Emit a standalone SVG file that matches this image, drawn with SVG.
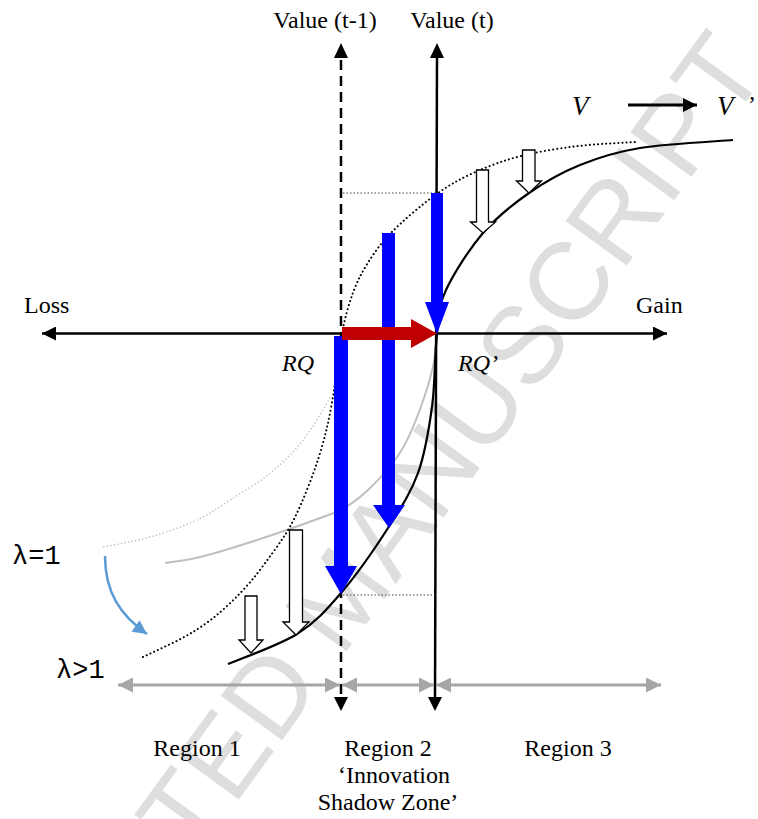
<svg xmlns="http://www.w3.org/2000/svg" width="758" height="819" viewBox="0 0 758 819">
<style>
.t{font-family:"Liberation Serif","Times New Roman",serif;font-size:24px;fill:#000}
.it{font-style:italic}
.v{font-family:"Liberation Serif","Times New Roman",serif;font-style:italic;font-size:27px;fill:#000}
.m{font-family:"Liberation Mono","DejaVu Sans Mono",monospace;font-size:27px;fill:#000}
.ax{stroke:#000;stroke-width:2.5;fill:none}
.bar{stroke:#A6A6A6;stroke-width:3;fill:none;marker-start:url(#ga);marker-end:url(#ga)}
.blue{fill:#0000FF}
.wa{fill:#fff;stroke:#000;stroke-width:1.3}
.dot{fill:none;stroke:#000;stroke-width:2;stroke-dasharray:0.1 4;stroke-linecap:round}
.thin{fill:none;stroke:#444;stroke-width:1;stroke-dasharray:1.5 2}
</style>
<defs>
<marker id="ba" viewBox="0 0 10 10" refX="10" refY="5" markerUnits="userSpaceOnUse" markerWidth="15" markerHeight="14" orient="auto-start-reverse"><path d="M0,0L10,5L0,10z" fill="#000"/></marker>
<marker id="ga" viewBox="0 0 10 10" refX="10" refY="5" markerUnits="userSpaceOnUse" markerWidth="16" markerHeight="15" orient="auto-start-reverse"><path d="M0,0L10,5L0,10z" fill="#A6A6A6"/></marker>
<marker id="la" viewBox="0 0 10 10" refX="10" refY="5" markerUnits="userSpaceOnUse" markerWidth="17" markerHeight="14" orient="auto"><path d="M0,0L10,5L0,10z" fill="#5B9BD5"/></marker>
</defs>
<rect width="758" height="819" fill="#fff"/>
<text x="370" y="619" transform="rotate(-54 370 619)" text-anchor="middle" font-family="Liberation Sans, Arial, sans-serif" font-size="110" fill="#DEDEDE">ACCEPTED MANUSCRIPT</text>

<g id="curves">
<path d="M330,398 L317.5,419 Q305,440 287.5,457.5 Q270,475 250,487.5 Q230,500 215,510 Q200,520 175,529 Q150,538 126.5,542.5 L103,547" fill="none" stroke="#BFBFBF" stroke-width="1.5" stroke-dasharray="0.1 3.5" stroke-linecap="round"/>
<path d="M437,335 L435,354 Q433,373 421,406.5 Q409,440 397.5,456.5 Q386,473 368,490 Q350,507 332.5,513.5 Q315,520 291,528.5 Q267,537 233.5,547.5 Q200,558 182.5,560.5 L165,563" fill="none" stroke="#BFBFBF" stroke-width="2"/>
<path class="dot" d="M143,657 L171.5,643.5 Q200,630 221.5,611 Q243,592 258,572.5 Q273,553 284,536.5 Q295,520 307.5,488.5 Q320,457 326.5,429.5 Q333,402 337,367.5 Q341,333 347,311.5 Q353,290 360,276.5 Q367,263 378,248 Q389,233 412.5,213 Q436,193 454.5,182.5 Q473,172 496.5,163.5 Q520,155 550,150 Q580,145 608.5,143.5 L637,142"/>
<path d="M228,664 C239.5,659 278.2,645.8 297,634 C315.8,622.2 325.8,610.7 341,593 C356.2,575.3 375.2,548 388,528 C400.8,508 410.7,493.2 418,473 C425.3,452.8 428.8,430.3 432,407 C435.2,383.7 434.7,352.5 437,333 C439.3,313.5 438.3,306.7 446,290 C453.7,273.3 469.2,249.2 483,233 C496.8,216.8 512.8,204.3 529,193 C545.2,181.7 561.5,172.5 580,165 C598.5,157.5 614.5,152.2 640,148 C665.5,143.8 717.5,141.3 733,140" fill="none" stroke="#000" stroke-width="2.2"/>
</g>

<g id="connectors">
<line class="ax" x1="42" y1="333.5" x2="667" y2="333.5" marker-start="url(#ba)" marker-end="url(#ba)"/>
<line class="ax" x1="341" y1="60" x2="341" y2="695" stroke-width="3" stroke-dasharray="10 6"/>
<path d="M334,58 L341,43 L348,58z M334,697 L348,697 L341,711z" fill="#000"/>
<line class="ax" x1="437" y1="56" x2="435" y2="698"/>
<path d="M430,58 L437,43 L444,58z M428,697 L442,697 L435,711z" fill="#000"/>
<line class="thin" x1="343" y1="193" x2="436" y2="193"/>
<line class="thin" x1="343" y1="595" x2="436" y2="595"/>
<line class="bar" x1="118" y1="685" x2="340" y2="685"/>
<line class="bar" x1="342" y1="685" x2="434" y2="685"/>
<line class="bar" x1="436" y1="685" x2="661" y2="685"/>
<line x1="628" y1="105" x2="697" y2="105" stroke="#000" stroke-width="3" marker-end="url(#ba)"/>
<path d="M105,556 C105,592 120,615 147,634" fill="none" stroke="#5B9BD5" stroke-width="2.5" marker-end="url(#la)"/>
</g>

<g id="blue-arrows">
<polygon class="blue" points="334,336 348,336 348,566 357,566 341,594 325,566 334,566"/>
<polygon class="blue" points="382,233 395,233 395,505 405,505 389,528 373,505 382,505"/>
<polygon class="blue" points="431,193 443,193 443,302 449,302 437,334 425,302 431,302"/>
</g>
<g id="red-arrow">
<polygon fill="#C00000" points="342,327 411,327 411,319 437,333.5 411,348 411,340 342,340"/>
</g>
<g id="white-arrows">
<polygon class="wa" points="476.5,170 488.5,170 488.5,222 495.5,222 483,233 470.5,222 476.5,222"/>
<polygon class="wa" points="522.5,150 535,150 535,181 541.5,181 529,193 516.5,181 522.5,181"/>
<polygon class="wa" points="289.5,530 302.5,530 302.5,622 309,622 296,635 283,622 289.5,622"/>
<polygon class="wa" points="245,596 257,596 257,640 263,640 251,653 239,640 245,640"/>
</g>

<g id="labels">
<text class="t" x="325" y="28" text-anchor="middle">Value (t-1)</text>
<text class="t" x="452" y="28" text-anchor="middle">Value (t)</text>
<text class="t" x="24" y="313">Loss</text>
<text class="t" x="636" y="313">Gain</text>
<text class="t it" x="282" y="371">RQ</text>
<text class="t it" x="458" y="371">RQ’</text>
<text class="v" x="572" y="115">V</text>
<text class="v" x="717" y="115">V</text>
<text class="t" x="748" y="112">’</text>
<text class="m" x="12" y="564">λ=1</text>
<text class="m" x="56" y="678">λ&gt;1</text>
<text class="t" x="197" y="756" text-anchor="middle">Region 1</text>
<text class="t" x="388" y="756" text-anchor="middle">Region 2</text>
<text class="t" x="394" y="783" text-anchor="middle">‘Innovation</text>
<text class="t" x="388" y="810" text-anchor="middle">Shadow Zone’</text>
<text class="t" x="568" y="756" text-anchor="middle">Region 3</text>
</g>
</svg>
